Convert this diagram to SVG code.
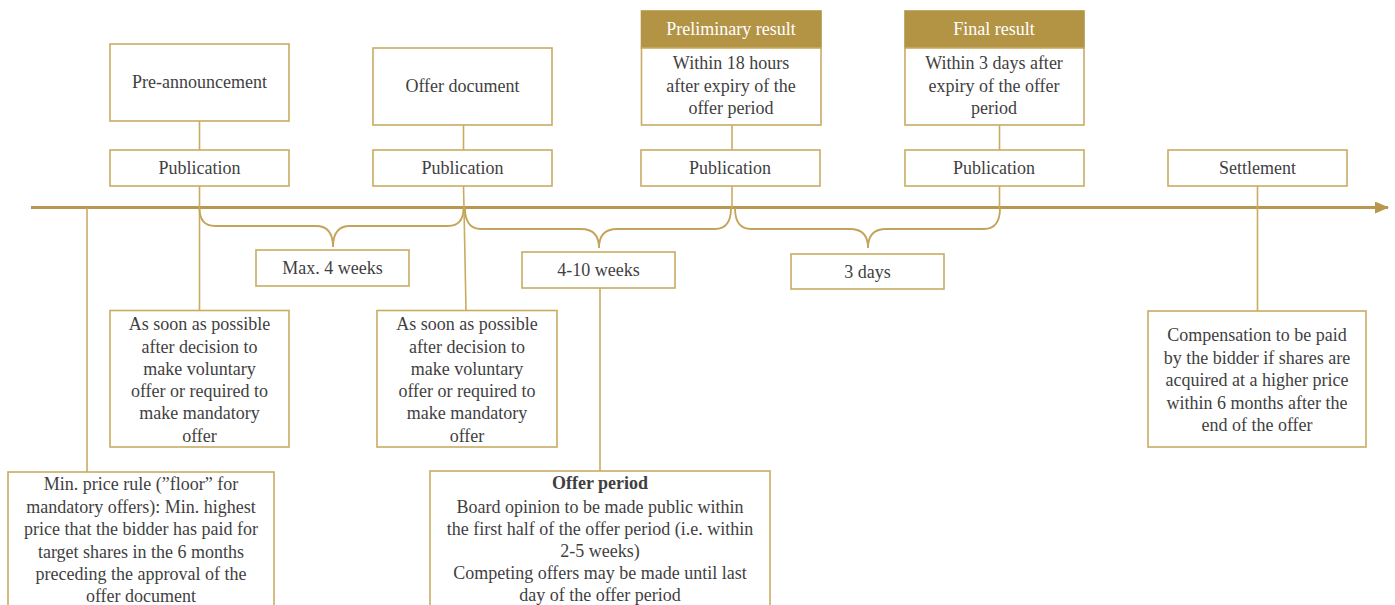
<svg xmlns="http://www.w3.org/2000/svg" width="1395" height="605" viewBox="0 0 1395 605" xml:space="preserve">
<style>
.box{fill:#fff;stroke:#C9AC62;stroke-width:1.6}
.hdr{fill:#B39445;stroke:#B39445;stroke-width:1.6}
.t{font-family:"Liberation Serif","Times New Roman",serif;font-size:18px;fill:#3f3f3f;text-anchor:middle}
.w{fill:#fff}
.b{font-weight:bold}
.ln{stroke:#C9AC62;stroke-width:1.6;fill:none}
.br{stroke:#C3A45A;stroke-width:1.8;fill:none}
.ax{stroke:#B8974E;stroke-width:3;fill:none}
</style>
<defs>
<marker id="arr" markerWidth="14" markerHeight="12" refX="13" refY="6" orient="auto" markerUnits="userSpaceOnUse">
<path d="M0,0 L14,6 L0,12 Z" fill="#B8974E"/>
</marker>
</defs>
<g id="connectors">
<line class="ax" x1="31" y1="207.5" x2="1388" y2="207.5" marker-end="url(#arr)"/>
<line class="ln" x1="199.5" y1="121" x2="199.5" y2="150"/>
<line class="ln" x1="199.5" y1="186" x2="199.5" y2="310"/>
<line class="ln" x1="463.5" y1="125" x2="463.5" y2="150"/>
<path class="ln" d="M463.5,186 L464,208 L466,310"/>
<line class="ln" x1="732" y1="125" x2="732" y2="150"/>
<line class="ln" x1="732" y1="186" x2="732" y2="208"/>
<line class="ln" x1="999.5" y1="125" x2="999.5" y2="150"/>
<line class="ln" x1="999.5" y1="186" x2="999.5" y2="208"/>
<line class="ln" x1="1257.5" y1="186" x2="1257.5" y2="311"/>
<line class="ln" x1="87" y1="208" x2="87" y2="472"/>
<line class="ln" x1="600" y1="288" x2="600" y2="471"/>
<path class="br" d="M199.5,208 Q199.5,226 215,226 L316,226 Q333,226 333,247 Q333,226 350,226 L448,226 Q463.5,226 463.5,208"/>
<path class="br" d="M465,208 Q465,229 481,229 L581,229 Q599,229 599,248 Q599,229 617,229 L715,229 Q731,229 731,208"/>
<path class="br" d="M735,208 Q735,229 751,229 L850,229 Q868,229 868,248 Q868,229 886,229 L984,229 Q1000,229 1000,208"/>
</g>
<g id="pre-announcement">
<rect class="box" x="110" y="44" width="179" height="77"/>
<text class="t" x="199.5" y="88">Pre-announcement</text>
</g>
<g id="publication-1">
<rect class="box" x="110" y="150" width="179" height="36"/>
<text class="t" x="199.5" y="174">Publication</text>
</g>
<g id="offer-document">
<rect class="box" x="373" y="48" width="179" height="77"/>
<text class="t" x="462.5" y="92">Offer document</text>
</g>
<g id="publication-2">
<rect class="box" x="373" y="150" width="179" height="36"/>
<text class="t" x="462.5" y="174">Publication</text>
</g>
<g id="preliminary-result">
<rect class="hdr" x="641.5" y="11" width="179.5" height="37"/>
<text class="t w" x="731" y="35">Preliminary result</text>
<rect class="box" x="641.5" y="48" width="179.5" height="77"/>
<text class="t" x="731" y="69">Within  18 hours</text>
<text class="t" x="731" y="92">after expiry of the</text>
<text class="t" x="731" y="114">offer period</text>
</g>
<g id="publication-3">
<rect class="box" x="641" y="150" width="179" height="36"/>
<text class="t" x="730" y="174">Publication</text>
</g>
<g id="final-result">
<rect class="hdr" x="905" y="11" width="179" height="37"/>
<text class="t w" x="994" y="35">Final result</text>
<rect class="box" x="905" y="48" width="179" height="77"/>
<text class="t" x="994" y="69">Within  3 days after</text>
<text class="t" x="994" y="92">expiry  of the offer</text>
<text class="t" x="994" y="114">period</text>
</g>
<g id="publication-4">
<rect class="box" x="905" y="150" width="179" height="36"/>
<text class="t" x="994" y="174">Publication</text>
</g>
<g id="settlement">
<rect class="box" x="1168" y="150" width="179" height="36"/>
<text class="t" x="1257.5" y="174">Settlement</text>
</g>
<g id="max-4-weeks">
<rect class="box" x="256" y="250" width="153" height="36"/>
<text class="t" x="332.5" y="274">Max. 4 weeks</text>
</g>
<g id="weeks-4-10">
<rect class="box" x="522" y="252" width="153" height="36"/>
<text class="t" x="598.5" y="276">4-10 weeks</text>
</g>
<g id="days-3">
<rect class="box" x="791" y="254" width="153" height="35"/>
<text class="t" x="867.5" y="278">3 days</text>
</g>
<g id="asap-1">
<rect class="box" x="110" y="310.5" width="179" height="136.5"/>
<text class="t" x="199.5" y="330">As soon as possible</text>
<text class="t" x="199.5" y="352.5">after decision to</text>
<text class="t" x="199.5" y="374.5">make voluntary</text>
<text class="t" x="199.5" y="397">offer or required to</text>
<text class="t" x="199.5" y="419">make mandatory</text>
<text class="t" x="199.5" y="441.5">offer</text>
</g>
<g id="asap-2">
<rect class="box" x="377" y="310.5" width="180" height="136.5"/>
<text class="t" x="467" y="330">As soon as possible</text>
<text class="t" x="467" y="352.5">after decision to</text>
<text class="t" x="467" y="374.5">make voluntary</text>
<text class="t" x="467" y="397">offer or required to</text>
<text class="t" x="467" y="419">make mandatory</text>
<text class="t" x="467" y="441.5">offer</text>
</g>
<g id="min-price">
<rect class="box" x="8" y="472" width="266" height="140"/>
<text class="t" x="141" y="490">Min.  price rule (”floor” for</text>
<text class="t" x="141" y="512.5">mandatory offers): Min. highest</text>
<text class="t" x="141" y="535">price that the bidder has paid for</text>
<text class="t" x="141" y="557.5">target shares in the 6 months</text>
<text class="t" x="141" y="580">preceding the approval of the</text>
<text class="t" x="141" y="602">offer document</text>
</g>
<g id="offer-period">
<rect class="box" x="430" y="471" width="340" height="140"/>
<text class="t b" x="600" y="489">Offer period</text>
<text class="t" x="600" y="512.5">Board opinion  to be made public  within</text>
<text class="t" x="600" y="534.5">the first half of the offer period (i.e. within</text>
<text class="t" x="600" y="556.5">2-5 weeks)</text>
<text class="t" x="600" y="579">Competing  offers may be made until  last</text>
<text class="t" x="600" y="601">day of the offer period</text>
</g>
<g id="compensation">
<rect class="box" x="1148" y="311" width="218" height="136"/>
<text class="t" x="1257" y="341">Compensation to be paid</text>
<text class="t" x="1257" y="363.5">by the bidder if shares are</text>
<text class="t" x="1257" y="386">acquired at a higher price</text>
<text class="t" x="1257" y="408.5">within  6 months after the</text>
<text class="t" x="1257" y="431">end of the offer</text>
</g>
</svg>
